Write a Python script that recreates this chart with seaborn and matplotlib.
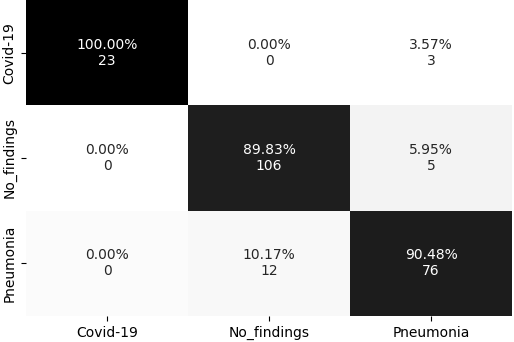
import numpy as np
import matplotlib
matplotlib.use("Agg")
import matplotlib.pyplot as plt
import seaborn as sns

# class names and confusion counts (as annotated in the picture)
labels = ["Covid-19", "No_findings", "Pneumonia"]
counts = np.array([[23, 0, 3],
                   [0, 106, 5],
                   [0, 12, 76]])

# percentages shown in the cells (normalised per column)
pct = counts / counts.sum(axis=0)
# the shading follows the transposed matrix
shade = pct.T

annot = np.array([["{:.2%}\n{}".format(p, c) for p, c in zip(prow, crow)]
                  for prow, crow in zip(pct, counts)])

fig = plt.figure(figsize=(5.14, 3.42), dpi=100)
ax = fig.add_axes([26/514, 1 - 316/342, 486/514, 316/342])
sns.heatmap(shade, annot=annot, fmt="", cmap="Greys", cbar=False,
            xticklabels=labels, yticklabels=labels, ax=ax,
            annot_kws={"fontsize": 10})
plt.setp(ax.get_yticklabels(), rotation=90, va="center")
plt.setp(ax.get_xticklabels(), rotation=0)
fig.savefig("out.png", dpi=100)
